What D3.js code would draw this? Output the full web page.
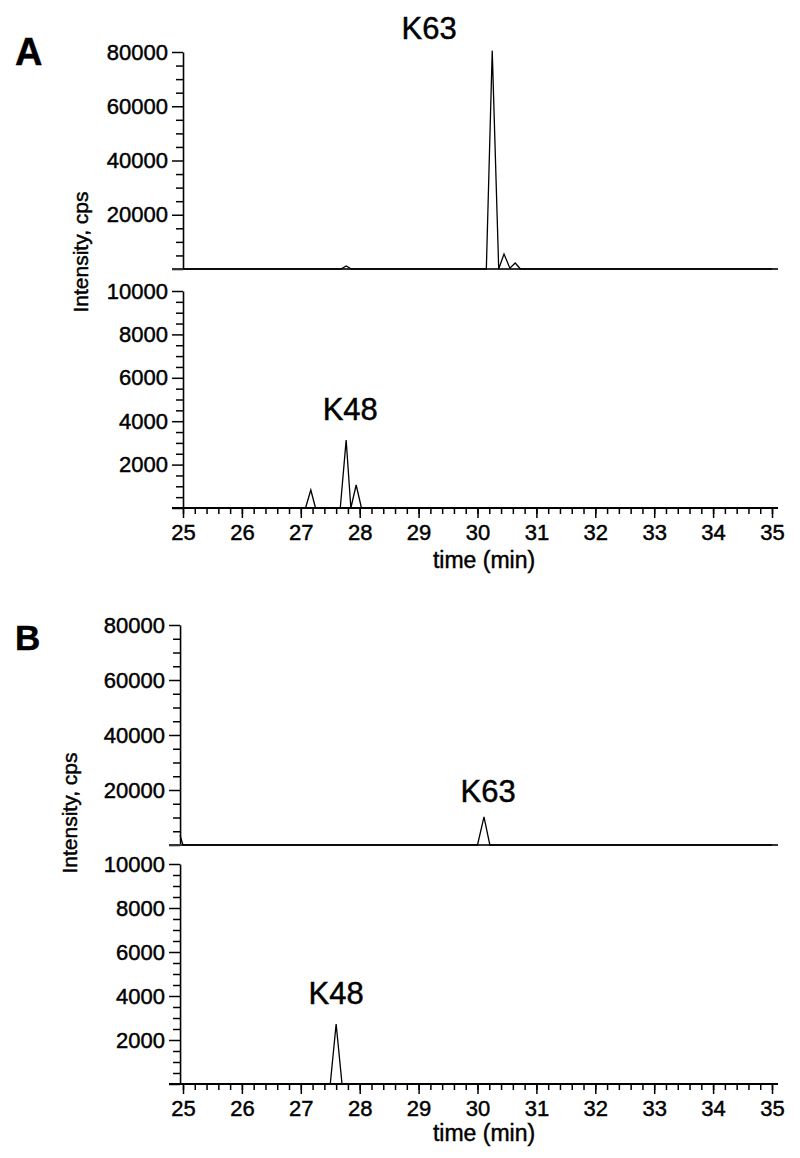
<!DOCTYPE html>
<html>
<head>
<meta charset="utf-8">
<script src="https://cdnjs.cloudflare.com/ajax/libs/d3/7.8.5/d3.min.js"></script>
<style>
body{margin:0;background:#fff;}
text{font-family:"Liberation Sans",Arial,Helvetica,sans-serif;fill:#000;stroke:#000;stroke-width:0.45px;}
</style>
</head>
<body>
<svg id="mysvg" width="800" height="1158"></svg>
<script>
// time axis (min)
var timeTicks = [25,26,27,28,29,30,31,32,33,34,35];
var timeMinor = d3.range(25, 35.01, 0.2);

// y ticks, upper (K63) and lower (K48) traces
var ticksK63 = [0,20000,40000,60000,80000];
var minorK63 = [5000,10000,15000,25000,30000,35000,45000,50000,55000,65000,70000,75000];
var ticksK48 = [0,2000,4000,6000,8000,10000];
var minorK48 = [500,1000,1500,2500,3000,3500,4500,5000,5500,6500,7000,7500,8500,9000,9500];

// panel A traces (time, intensity cps)
var timeA63 = [25, 27.68, 27.77, 27.86, 30.15, 30.25, 30.36, 30.45, 30.55, 30.64, 30.73, 35];
var intA63  = [0, 0, 1100, 0, 0, 80500, 0, 5500, 300, 2200, 0, 0];
var timeA48 = [25, 27.08, 27.17, 27.25, 27.67, 27.77, 27.85, 27.94, 28.03, 35];
var intA48  = [0, 0, 830, 0, 0, 3130, 0, 1060, 0, 0];

// panel B traces
var timeB63 = [24.95, 25.0, 30.0, 30.11, 30.21, 35];
var intB63  = [3500, 0, 0, 10200, 0, 0];
var timeB48 = [24.95, 27.5, 27.6, 27.7, 35];
var intB48  = [0, 0, 2730, 0, 0];

var svg = d3.select("#mysvg");

var x = d3.scaleLinear().domain([25, 35]).range([183, 772]);

// one entry per sub plot (layout only)
var panels = [
  {t: timeA63, v: intA63, ticks: ticksK63, minor: minorK63, top: 52,  bottom: 269,  x0: 25,    xaxis: false, name: "K63", lx: 29.18, ly: 84800},
  {t: timeA48, v: intA48, ticks: ticksK48, minor: minorK48, top: 291, bottom: 508,  x0: 25,    xaxis: true,  name: "K48", lx: 27.84, ly: 4050, titleY: 568},
  {t: timeB63, v: intB63, ticks: ticksK63, minor: minorK63, top: 625, bottom: 845,  x0: 24.95, xaxis: false, name: "K63", lx: 30.18, ly: 15600},
  {t: timeB48, v: intB48, ticks: ticksK48, minor: minorK48, top: 864, bottom: 1084, x0: 24.95, xaxis: true,  name: "K48", lx: 27.6,  ly: 3640, titleY: 1141}
];

panels.forEach(function(p) {
  var maxV = d3.max(p.ticks);
  var y = d3.scaleLinear().domain([0, maxV]).range([p.bottom, p.top]);
  var ax = x(p.x0);

  // minor y ticks
  svg.append("g")
    .attr("transform", "translate(" + ax + ",0)")
    .call(d3.axisLeft(y).tickValues(p.minor).tickSize(7).tickFormat(""))
    .call(function(g){ g.select(".domain").remove(); })
    .selectAll("line").attr("stroke", "#000").attr("stroke-width", 1.5);

  // major y ticks + labels
  var ya = svg.append("g")
    .attr("transform", "translate(" + ax + ",0)")
    .call(d3.axisLeft(y).tickValues(p.ticks).tickSize(11).tickSizeOuter(0).tickPadding(4)
      .tickFormat(function(d){ return d === 0 ? "" : d; }));
  ya.select(".domain").attr("stroke", "#000").attr("stroke-width", 1.6);
  ya.selectAll("line").attr("stroke", "#000").attr("stroke-width", 1.5);
  ya.selectAll("text").attr("font-size", "22px").attr("font-family", null).attr("fill", "#000");

  if (p.xaxis) {
    svg.append("g")
      .attr("transform", "translate(0," + p.bottom + ")")
      .call(d3.axisBottom(x).tickValues(timeMinor).tickSize(6).tickFormat(""))
      .call(function(g){ g.select(".domain").remove(); })
      .selectAll("line").attr("stroke", "#000").attr("stroke-width", 1.5);

    var xa = svg.append("g")
      .attr("transform", "translate(0," + p.bottom + ")")
      .call(d3.axisBottom(x).tickValues(timeTicks).tickSize(10).tickPadding(6).tickFormat(d3.format("d")));
    xa.select(".domain").remove();
    xa.selectAll("line").attr("stroke", "#000").attr("stroke-width", 1.5);
    xa.selectAll("text").attr("font-size", "22px").attr("font-family", null).attr("fill", "#000");

    svg.append("text")
      .attr("x", 484)
      .attr("y", p.titleY)
      .attr("text-anchor", "middle")
      .attr("font-size", "23px")
      .text("time (min)");
  }

  // baseline / x axis line
  svg.append("line")
    .attr("x1", ax - 11).attr("x2", 778)
    .attr("y1", y(0)).attr("y2", y(0))
    .attr("stroke", p.xaxis ? "#000" : "#333")
    .attr("stroke-width", 1.8);

  // the trace
  var pts = p.t.map(function(d, i){ return [d, p.v[i]]; });
  svg.append("path")
    .datum(pts)
    .attr("fill", "none")
    .attr("stroke", "#000")
    .attr("stroke-width", 1.3)
    .attr("d", d3.line().x(function(d){ return x(d[0]); }).y(function(d){ return y(d[1]); }));

  svg.append("text")
    .attr("x", x(p.lx))
    .attr("y", y(p.ly))
    .attr("text-anchor", "middle")
    .attr("font-size", "31px")
    .text(p.name);
});

// y axis titles
svg.append("text")
  .attr("transform", "translate(88,252)rotate(-90)")
  .attr("text-anchor", "middle")
  .attr("font-size", "21px")
  .text("Intensity, cps");
svg.append("text")
  .attr("transform", "translate(77,813)rotate(-90)")
  .attr("text-anchor", "middle")
  .attr("font-size", "21px")
  .text("Intensity, cps");

// panel letters
svg.append("text").attr("x", 15).attr("y", 65).attr("font-size", "38px").attr("font-weight", "bold").text("A");
svg.append("text").attr("x", 15).attr("y", 650).attr("font-size", "35px").attr("font-weight", "bold").text("B");
</script>
</body>
</html>
